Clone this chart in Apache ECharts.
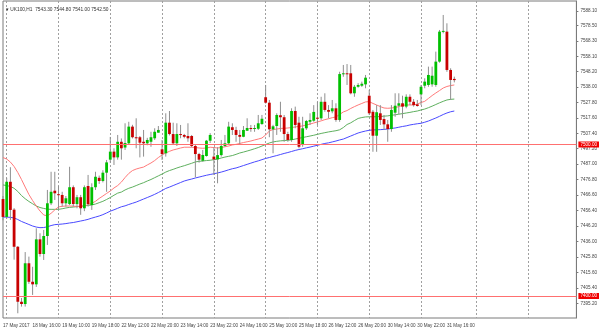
<!DOCTYPE html>
<html>
<head>
<meta charset="utf-8">
<script src="https://cdn.jsdelivr.net/npm/echarts@6/dist/echarts.min.js"></script>
<style>
html,body{margin:0;padding:0;background:#fff;}
#chart{width:600px;height:330px;}
</style>
</head>
<body>
<div id="chart"></div>
<script>
// UK100 H1 bars, server time
const times = [
  '17 May 22:00',
  '18 May 09:00','18 May 10:00','18 May 11:00','18 May 12:00','18 May 13:00','18 May 14:00','18 May 15:00','18 May 16:00','18 May 17:00','18 May 18:00','18 May 19:00','18 May 20:00','18 May 21:00','18 May 22:00',
  '19 May 09:00','19 May 10:00','19 May 11:00','19 May 12:00','19 May 13:00','19 May 14:00','19 May 15:00','19 May 16:00','19 May 17:00','19 May 18:00','19 May 19:00','19 May 20:00','19 May 21:00','19 May 22:00',
  '22 May 09:00','22 May 10:00','22 May 11:00','22 May 12:00','22 May 13:00','22 May 14:00','22 May 15:00','22 May 16:00','22 May 17:00','22 May 18:00','22 May 19:00','22 May 20:00','22 May 21:00','22 May 22:00',
  '23 May 09:00','23 May 10:00','23 May 11:00','23 May 12:00','23 May 13:00','23 May 14:00','23 May 15:00','23 May 16:00','23 May 17:00','23 May 18:00','23 May 19:00','23 May 20:00','23 May 21:00','23 May 22:00',
  '24 May 09:00','24 May 10:00','24 May 11:00','24 May 12:00','24 May 13:00','24 May 14:00','24 May 15:00','24 May 16:00','24 May 17:00','24 May 18:00','24 May 19:00','24 May 20:00','24 May 21:00','24 May 22:00',
  '25 May 09:00','25 May 10:00','25 May 11:00','25 May 12:00','25 May 13:00','25 May 14:00','25 May 15:00','25 May 16:00','25 May 17:00','25 May 18:00','25 May 19:00','25 May 20:00','25 May 21:00','25 May 22:00',
  '26 May 09:00','26 May 10:00','26 May 11:00','26 May 12:00','26 May 13:00','26 May 14:00','26 May 15:00','26 May 16:00','26 May 17:00','26 May 18:00','26 May 19:00','26 May 20:00','26 May 21:00','26 May 22:00',
  '30 May 09:00','30 May 10:00','30 May 11:00','30 May 12:00','30 May 13:00','30 May 14:00','30 May 15:00','30 May 16:00','30 May 17:00','30 May 18:00','30 May 19:00','30 May 20:00','30 May 21:00','30 May 22:00',
  '31 May 09:00','31 May 10:00','31 May 11:00','31 May 12:00','31 May 13:00','31 May 14:00','31 May 15:00','31 May 16:00','31 May 17:00','31 May 18:00'
];

const opens = [
  7464.0,7452.2,7475.4,7457.0,7432.5,7396.2,7394.7,7421.6,7409.4,7407.7,7437.4,7427.7,7439.6,7461.2,7469.5,
  7467.2,7466.7,7461.2,7460.7,7471.8,7460.7,7465.2,7457.9,7472.6,7460.0,7471.8,7478.0,7475.9,7481.4,
  7490.0,7495.3,7491.5,7501.8,7498.0,7500.8,7511.8,7504.8,7504.8,7501.8,7500.8,7501.8,7504.1,7507.8,
  7496.8,7494.2,7514.4,7506.9,7500.8,7506.9,7506.3,7505.6,7505.6,7499.0,7493.7,7489.3,7492.4,7502.5,
  7492.0,7490.2,7493.0,7499.0,7500.8,7511.4,7509.6,7506.3,7505.1,7509.1,7510.9,7510.4,7510.4,7513.5,
  7531.2,7527.6,7510.0,7512.2,7519.3,7518.0,7506.9,7503.0,7522.1,7514.4,7499.7,7510.7,7515.0,7515.7,
  7517.7,7517.3,7528.2,7522.8,7521.9,7523.9,7516.2,7546.5,7547.0,7547.0,7533.8,7538.1,7538.8,7539.7,
  7532.2,7521.6,7505.8,7520.6,7516.8,7513.3,7510.2,7521.0,7525.6,7527.2,7525.0,7531.5,7528.2,7526.5,
  7533.1,7538.8,7539.3,7539.7,7539.3,7554.7,7574.5,7574.5,7549.2,7543.3
];
const highs = [
  7466.0,7478.0,7485.0,7458.0,7433.0,7398.7,7429.0,7426.0,7419.3,7444.7,7441.4,7443.6,7470.0,7482.0,7482.0,
  7472.6,7468.8,7466.0,7485.3,7473.0,7466.7,7466.7,7473.0,7479.9,7474.4,7482.0,7479.5,7483.0,7489.8,
  7505.0,7497.5,7506.3,7504.0,7514.0,7515.0,7513.0,7517.3,7505.6,7509.6,7504.4,7508.4,7510.7,7512.2,
  7503.0,7520.6,7522.1,7514.4,7514.0,7512.9,7507.0,7514.0,7506.3,7499.7,7494.5,7496.4,7503.0,7507.5,
  7498.2,7498.2,7503.0,7506.3,7515.0,7514.0,7511.7,7509.6,7512.2,7517.3,7512.9,7512.9,7519.5,7519.5,
  7539.3,7529.4,7513.0,7520.6,7528.2,7519.5,7508.4,7523.9,7525.0,7518.3,7518.3,7516.2,7520.6,7526.0,
  7528.2,7531.5,7533.8,7526.0,7529.4,7527.2,7548.0,7552.5,7553.1,7552.5,7539.3,7540.5,7541.5,7545.9,
  7536.0,7522.8,7526.0,7526.0,7519.5,7516.2,7526.0,7533.8,7533.8,7532.2,7533.1,7533.1,7530.0,7529.4,
  7539.3,7543.7,7551.4,7551.4,7561.3,7575.6,7585.5,7580.0,7550.3,7544.8
];
const lows = [
  7450.0,7451.0,7450.2,7424.0,7388.6,7393.0,7393.0,7408.0,7400.7,7406.0,7426.0,7423.8,7433.7,7460.0,7463.4,
  7456.8,7459.0,7459.0,7460.0,7459.0,7457.9,7453.6,7456.0,7459.0,7456.8,7470.0,7474.0,7475.0,7468.8,
  7488.0,7486.5,7490.0,7490.0,7496.4,7500.0,7504.0,7497.5,7491.5,7492.0,7499.5,7498.5,7503.0,7507.8,
  7489.8,7492.0,7506.0,7499.7,7499.0,7504.1,7504.1,7501.8,7498.2,7478.4,7488.0,7488.6,7492.0,7501.0,
  7479.9,7474.4,7492.0,7498.5,7500.0,7506.3,7501.8,7500.3,7504.8,7509.0,7508.4,7508.4,7509.6,7513.0,
  7527.0,7504.8,7494.2,7506.3,7508.4,7501.8,7501.8,7501.8,7510.7,7497.5,7498.5,7509.6,7512.9,7515.0,
  7512.9,7516.2,7521.6,7517.3,7520.6,7515.0,7515.0,7544.7,7539.3,7533.1,7531.5,7537.5,7538.0,7537.1,
  7519.5,7495.2,7495.2,7512.9,7509.6,7501.8,7508.4,7518.3,7520.0,7517.3,7523.9,7526.0,7525.0,7525.0,
  7526.0,7537.1,7538.1,7538.1,7538.1,7554.0,7573.4,7548.0,7529.4,7541.0
];
const closes = [
  7452.2,7475.4,7456.8,7432.5,7396.2,7394.7,7421.6,7409.4,7407.7,7437.4,7427.7,7439.6,7461.2,7468.8,7467.8,
  7466.7,7461.2,7464.5,7471.8,7460.7,7465.2,7457.9,7471.8,7460.7,7471.8,7478.7,7475.9,7481.4,7488.2,
  7495.3,7491.5,7501.8,7497.5,7501.0,7511.8,7504.8,7504.1,7501.2,7500.8,7503.0,7504.8,7508.4,7509.6,
  7493.7,7514.4,7506.9,7500.8,7506.9,7506.3,7505.1,7504.1,7499.0,7493.7,7490.0,7493.1,7502.5,7506.3,
  7490.2,7493.0,7499.0,7500.8,7511.8,7509.6,7506.3,7505.1,7509.6,7510.9,7510.4,7510.9,7514.0,7517.0,
  7527.6,7510.0,7512.0,7519.5,7518.0,7506.9,7503.0,7522.1,7512.9,7498.5,7510.7,7515.5,7516.2,7521.5,
  7517.0,7528.2,7522.8,7521.6,7523.9,7516.2,7546.5,7547.0,7546.5,7533.8,7538.1,7539.3,7540.1,7544.1,
  7520.6,7505.8,7521.3,7516.2,7513.3,7510.2,7522.8,7525.6,7527.2,7525.0,7531.5,7528.2,7526.0,7525.4,
  7538.1,7541.5,7545.9,7545.4,7554.7,7574.5,7575.0,7549.2,7542.6,7542.5
];

// moving averages as plotted (fast red, medium green, slow blue)
const maFast = [
  7491.4,7490.4,7488.4,7485.5,7481.5,7476.9,7471.9,7467.0,7463.0,7459.4,7456.1,7453.5,7452.9,7454.6,7456.8,
  7458.8,7459.2,7459.4,7459.4,7459.3,7459.1,7459.1,7459.5,7460.2,7461.2,7462.5,7464.4,7466.0,7467.7,
  7469.3,7471.3,7472.9,7475.2,7478.2,7480.9,7482.8,7483.8,7484.5,7485.1,7486.5,7487.8,7489.4,7491.4,
  7493.1,7494.4,7495.5,7496.4,7497.0,7497.7,7498.2,7498.2,7498.2,7498.0,7497.7,7497.5,7497.7,7498.2,
  7498.0,7497.7,7498.0,7498.5,7499.0,7499.7,7500.1,7500.7,7501.3,7501.8,7502.3,7503.0,7503.6,7504.3,
  7506.3,7508.9,7509.9,7510.2,7510.6,7510.7,7510.9,7511.2,7511.6,7511.9,7512.3,7512.9,7513.5,7514.2,
  7514.9,7515.6,7516.4,7517.0,7517.7,7518.2,7519.8,7521.5,7522.4,7523.8,7525.0,7526.1,7527.1,7528.1,
  7528.3,7527.1,7526.1,7525.0,7524.1,7523.9,7524.1,7524.4,7525.0,7525.8,7526.1,7526.1,7526.1,7526.7,
  7527.7,7528.5,7530.4,7532.3,7534.0,7535.6,7537.3,7538.3,7538.9,7539.3
];
const maMid = [
  7473.3,7472.9,7472.3,7471.1,7469.0,7466.3,7464.2,7462.4,7460.9,7459.4,7458.4,7457.8,7457.3,7457.2,7457.2,
  7457.2,7457.6,7458.1,7458.5,7458.7,7459.0,7459.3,7459.5,7459.8,7460.1,7460.7,7461.6,7462.5,7463.7,
  7465.0,7466.5,7467.9,7468.6,7470.0,7471.1,7471.9,7472.9,7473.9,7474.8,7475.9,7476.9,7478.1,7479.3,
  7480.5,7481.8,7482.8,7483.6,7484.5,7485.3,7486.0,7486.8,7487.6,7488.5,7488.9,7489.1,7489.4,7489.6,
  7490.0,7490.4,7491.1,7491.7,7492.2,7492.7,7493.5,7494.4,7495.0,7495.7,7496.4,7497.2,7498.0,7499.0,
  7500.0,7501.0,7501.7,7502.1,7502.4,7502.6,7502.8,7503.1,7503.6,7504.1,7504.6,7505.1,7505.6,7506.1,
  7506.7,7507.3,7507.8,7508.3,7508.7,7509.1,7509.7,7511.2,7513.2,7514.3,7515.8,7517.2,7517.8,7518.2,
  7518.3,7518.3,7518.3,7518.5,7518.7,7518.9,7519.3,7519.6,7520.0,7520.4,7520.8,7521.2,7521.7,7522.1,
  7522.8,7523.4,7524.3,7525.3,7526.4,7527.5,7528.5,7529.4,7529.8,7530.0
];
const maSlow = [
  7452.1,7452.1,7451.9,7451.5,7450.5,7449.2,7448.2,7447.2,7446.2,7445.5,7445.1,7445.2,7445.7,7446.5,7447.1,
  7447.3,7447.5,7447.8,7448.2,7448.5,7449.0,7449.5,7450.0,7450.6,7451.4,7452.1,7452.8,7453.7,7454.8,
  7456.0,7456.9,7457.9,7458.9,7459.5,7460.4,7461.2,7462.0,7463.0,7464.0,7465.0,7466.0,7467.1,7468.3,
  7469.6,7471.0,7471.9,7472.9,7473.9,7474.9,7475.9,7476.6,7477.2,7477.9,7478.5,7479.1,7479.7,7480.2,
  7480.7,7481.2,7481.8,7482.5,7483.3,7484.0,7484.5,7485.3,7486.1,7486.9,7487.7,7488.5,7489.2,7490.0,
  7490.8,7491.4,7492.1,7492.7,7493.4,7494.1,7494.7,7495.4,7496.1,7496.7,7497.2,7497.8,7498.3,7498.9,
  7499.5,7500.1,7500.7,7501.1,7501.7,7502.3,7503.0,7503.6,7504.6,7505.6,7506.6,7507.6,7508.3,7508.9,
  7509.4,7509.6,7509.7,7509.8,7510.0,7510.2,7510.6,7510.9,7511.4,7511.9,7512.3,7512.9,7513.3,7513.7,
  7514.0,7514.7,7515.5,7516.5,7517.5,7518.6,7519.8,7520.8,7521.6,7522.1
];

// price scale labels on the right
const yTicks = [7385.30,7395.20,7405.40,7415.60,7425.80,7436.00,7446.20,7456.40,7466.60,7476.80,7487.00,
                7497.20,7507.40,7517.60,7527.80,7538.00,7548.20,7558.10,7568.30,7578.50,7588.10];
// horizontal levels
const levels = [7500.00, 7400.00];
const symbolName = 'UK100,H1';
const lastBar = {o: 7543.30, h: 7544.80, l: 7541.00, c: 7542.50};

// chart keeps empty room to the right of the last bar
const SLOTS = 156;
const cats = times.concat(new Array(SLOTS - times.length).fill(''));
// vertical grid at the first bar of each session (extends into the empty room)
const gridIdx = [1, 15, 29, 43, 57, 71, 85, 99, 113, 128, 142];

const FONT = 'Liberation Sans';
const UP = '#00c000';
const DOWN = '#c80000';
const WICK = '#8f8f8f';

const candleData = times.map((t, i) => [i, opens[i], closes[i], lows[i], highs[i]]);

function renderCandle(params, api) {
  const i = api.value(0);
  const o = api.value(1), c = api.value(2), l = api.value(3), h = api.value(4);
  const pO = api.coord([i, o]);
  const pC = api.coord([i, c]);
  const pL = api.coord([i, l]);
  const pH = api.coord([i, h]);
  const x = pO[0];
  const bw = 2.8;
  const top = Math.min(pO[1], pC[1]);
  const hgt = Math.max(1, Math.abs(pO[1] - pC[1]));
  return {
    type: 'group',
    children: [
      {type: 'line', shape: {x1: x, y1: pH[1], x2: x, y2: pL[1]},
       style: {stroke: WICK, lineWidth: 1}},
      {type: 'rect', shape: {x: x - bw / 2, y: top, width: bw, height: hgt},
       style: {fill: c >= o ? UP : DOWN, stroke: null}}
    ]
  };
}

const chart = echarts.init(document.getElementById('chart'), null, {renderer: 'canvas'});
chart.setOption({
  animation: false,
  backgroundColor: '#ffffff',
  title: {
    text: '\u25BE ' + symbolName + '  ' + [lastBar.o, lastBar.h, lastBar.l, lastBar.c].map(v => v.toFixed(2)).join(' '),
    left: 1, top: 2,
    textStyle: {fontFamily: FONT, fontSize: 4.8, fontWeight: 'normal', color: '#333'}
  },
  grid: {left: 0, right: 21, top: 1, bottom: 12, show: true, borderColor: '#7a7a7a', borderWidth: 1, backgroundColor: 'transparent'},
  xAxis: {
    type: 'category',
    data: cats,
    boundaryGap: false,
    axisLine: {show: false},
    axisTick: {show: false},
    axisLabel: {
      interval: (idx) => idx % 8 === 0 && idx < times.length,
      formatter: (val, idx) => idx === 0 ? '17 May 2017' : val,
      fontFamily: FONT, fontSize: 4.6, color: '#444', align: 'left', margin: 5
    },
    splitLine: {
      show: true,
      interval: (idx) => gridIdx.indexOf(idx) >= 0,
      lineStyle: {color: '#a0a0a0', width: 1, type: [2, 2]}
    }
  },
  yAxis: {
    type: 'value',
    position: 'right',
    min: 7385.48,
    max: 7594.72,
    axisLine: {show: true, lineStyle: {color: '#7a7a7a'}},
    axisTick: {show: true, customValues: yTicks, length: 2, lineStyle: {color: '#7a7a7a'}},
    axisLabel: {
      customValues: yTicks,
      formatter: (v) => v.toFixed(2),
      fontFamily: FONT, fontSize: 4.6, color: '#444', margin: 4
    },
    splitLine: {show: false}
  },
  series: [
    {
      type: 'custom',
      name: 'candles',
      renderItem: renderCandle,
      data: candleData,
      encode: {x: 0, y: [1, 2, 3, 4]},
      z: 3
    },
    {
      type: 'line', name: 'MA slow', data: maSlow, showSymbol: false, silent: true,
      lineStyle: {color: '#4a4aff', width: 1}, z: 2
    },
    {
      type: 'line', name: 'MA mid', data: maMid, showSymbol: false, silent: true,
      lineStyle: {color: '#5fb05f', width: 1}, z: 2
    },
    {
      type: 'line', name: 'MA fast', data: maFast, showSymbol: false, silent: true,
      lineStyle: {color: '#ff7a7a', width: 1}, z: 2,
      markLine: {
        silent: true,
        symbol: ['none', 'none'],
        animation: false,
        data: [
          ...levels.map(v => ({
            yAxis: v,
            lineStyle: {color: '#ff7070', width: 1, type: 'solid'},
            label: {show: true, position: 'end', distance: 2, formatter: v.toFixed(2),
                    color: '#fff', backgroundColor: '#f00000', padding: [1, 2, 0, 2],
                    fontFamily: FONT, fontSize: 4.6}
          })),
          {
            yAxis: lastBar.c,
            lineStyle: {opacity: 0},
            label: {show: true, position: 'end', distance: 2, formatter: lastBar.c.toFixed(2),
                    color: '#fff', backgroundColor: '#000', padding: [1, 2, 0, 2],
                    fontFamily: FONT, fontSize: 4.6}
          }
        ]
      }
    }
  ]
});
</script>
</body>
</html>
